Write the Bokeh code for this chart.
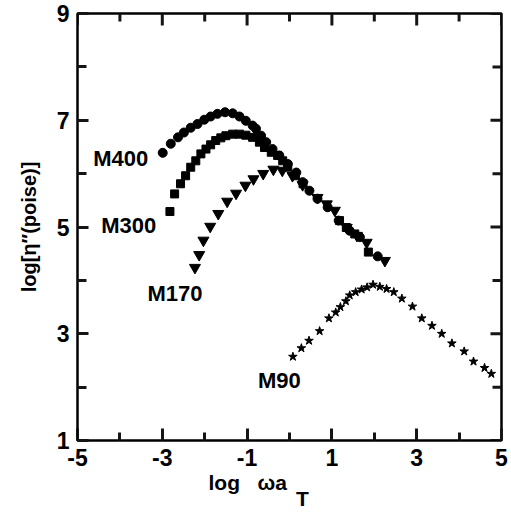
from bokeh.plotting import figure
from bokeh.models import FixedTicker, LinearAxis, Range1d, Title, Label
from bokeh.embed import file_html
from bokeh.resources import INLINE

# ---- data ----
m400_x = [-2.99, -2.80, -2.63, -2.49, -2.33, -2.17, -2.01, -1.86, -1.70, -1.52, -1.34, -1.18,
          -1.03, -0.87, -0.79, -0.67, -0.55, -0.40, -0.24, -0.04, 0.16, 0.31, 0.47, 0.66,
          0.90, 1.16, 1.42, 1.66, 2.08]
m400_y = [6.39, 6.56, 6.68, 6.77, 6.86, 6.93, 7.01, 7.07, 7.12, 7.15, 7.13, 7.07,
          6.99, 6.90, 6.84, 6.71, 6.59, 6.46, 6.34, 6.18, 6.02, 5.84, 5.68, 5.53,
          5.37, 5.12, 4.93, 4.81, 4.45]

m300_x = [-2.82, -2.71, -2.57, -2.45, -2.33, -2.21, -2.09, -1.97, -1.86, -1.74, -1.62, -1.50,
          -1.34, -1.18, -1.03, -0.87, -0.71, -0.59, -0.43, -0.28, -0.16, -0.04, 0.14, 0.32,
          1.18, 1.34, 1.54, 1.86]
m300_y = [5.29, 5.62, 5.81, 5.96, 6.12, 6.24, 6.37, 6.46, 6.54, 6.62, 6.67, 6.71,
          6.74, 6.74, 6.72, 6.68, 6.59, 6.49, 6.40, 6.34, 6.24, 6.12, 5.96, 5.81,
          5.12, 4.99, 4.87, 4.53]

m170_x = [-2.23, -2.13, -2.03, -1.87, -1.68, -1.47, -1.26, -1.04, -0.85, -0.62, -0.38,
          -0.17, 0.07, 0.31, 0.66, 0.88, 1.07, 1.35, 1.59, 1.82, 2.25]
m170_y = [4.24, 4.48, 4.75, 5.01, 5.25, 5.48, 5.63, 5.78, 5.90, 6.00, 6.08,
          6.06, 5.96, 5.79, 5.55, 5.43, 5.31, 4.99, 4.84, 4.71, 4.37]

m90_x = [0.08, 0.28, 0.46, 0.71, 0.93, 1.09, 1.20, 1.33, 1.42, 1.56, 1.70, 1.83, 1.97,
         2.13, 2.29, 2.46, 2.65, 2.90, 3.12, 3.36, 3.59, 3.83, 4.12, 4.34, 4.60, 4.76]
m90_y = [2.57, 2.73, 2.87, 3.05, 3.29, 3.40, 3.50, 3.61, 3.72, 3.78, 3.83, 3.87, 3.92,
         3.88, 3.84, 3.78, 3.66, 3.51, 3.29, 3.15, 3.00, 2.82, 2.67, 2.48, 2.36, 2.25]

series_names = ["M400", "M300", "M170", "M90"]
series_label_x = [-3.98, -3.79, -2.70, -0.24]
series_label_y = [6.28, 5.03, 3.75, 2.12]

x_major = [-5, -3, -1, 1, 3, 5]
x_major_labels = ["-5", "-3", "-1", "1", "3", "5"]
x_minor = [-4, -2, 0, 2, 4]
y_major = [1, 3, 5, 7, 9]
y_major_labels = ["1", "3", "5", "7", "9"]
y_minor = [2, 4, 6, 8]

FONT = "Liberation Sans"
INK = "#151515"
X0, X1, Y0, Y1 = -5.0, 5.0, 1.0, 9.0
W, H = 511, 516
BL, BR, BT, BB = 77, 10, 13, 76
px_x = (X1 - X0) / (W - BL - BR)   # data units per pixel, x
px_y = (Y1 - Y0) / (H - BT - BB)   # data units per pixel, y

p = figure(width=W, height=H, output_backend="svg", toolbar_location=None,
           x_range=Range1d(X0, X1), y_range=Range1d(Y0, Y1),
           min_border_left=BL, min_border_right=BR, min_border_top=BT, min_border_bottom=BB,
           x_axis_location=None, y_axis_location=None)
p.grid.visible = False
p.outline_line_color = "black"
p.outline_line_width = 2.5


def make_axis(ticks, minor, labels, tick_major, tick_minor):
    ax = LinearAxis(ticker=FixedTicker(ticks=ticks, minor_ticks=minor))
    ax.axis_line_color = "black"
    ax.major_tick_in = tick_major
    ax.major_tick_out = 0
    ax.minor_tick_in = tick_minor
    ax.minor_tick_out = 0
    ax.major_tick_line_width = 3
    ax.minor_tick_line_width = 3
    ax.major_tick_line_color = INK
    ax.minor_tick_line_color = INK
    ax.major_label_overrides = {t: s for t, s in zip(ticks, labels)}
    ax.major_label_text_font = FONT
    ax.major_label_text_font_style = "bold"
    ax.major_label_text_font_size = "23px"
    ax.major_label_text_color = "black"
    ax.major_label_standoff = 8
    return ax


xax = make_axis(x_major, x_minor, x_major_labels, 12, 8)
yax = make_axis(y_major, y_minor, y_major_labels, 11, 9)
yax.axis_label = "log[η″(poise)]"
yax.axis_label_text_font = FONT
yax.axis_label_text_font_style = "bold"
yax.axis_label_text_font_size = "20px"
yax.axis_label_text_color = "black"
yax.axis_label_standoff = 14
p.add_layout(xax, "below")
p.add_layout(yax, "left")

# x title: "log  ωa" with the subscript T on a tight second line
NB = "\u00a0"
p.add_layout(Title(text="log" + NB * 3 + "ωa\n" + NB * 15 + "T", align="left", offset=131,
                   standoff=0, text_line_height=0.72,
                   text_font=FONT, text_font_style="bold", text_font_size="21px",
                   text_color="black"), "below")

# inward ticks on the top and right edges drawn as short segments
tick_kw = dict(line_color=INK, line_width=3)
maj_v, min_v = 12 * px_y, 8 * px_y
maj_h, min_h = 11 * px_x, 9 * px_x
p.segment(x_major, [Y1] * len(x_major), x_major, [Y1 - maj_v] * len(x_major), **tick_kw)
p.segment(x_minor, [Y1] * len(x_minor), x_minor, [Y1 - min_v] * len(x_minor), **tick_kw)
p.segment([X1] * len(y_major), y_major, [X1 - maj_h] * len(y_major), y_major, **tick_kw)
p.segment([X1] * len(y_minor), y_minor, [X1 - min_h] * len(y_minor), y_minor, **tick_kw)

p.scatter(m400_x, m400_y, marker="circle", size=9, color="black")
p.scatter(m300_x, m300_y, marker="square", size=8, color="black")
p.scatter(m170_x, m170_y, marker="inverted_triangle", size=11, color="black")
p.scatter(m90_x, m90_y, marker="star", size=9, color="black")

for name, lx, ly in zip(series_names, series_label_x, series_label_y):
    p.add_layout(Label(x=lx, y=ly, text=name, text_font=FONT, text_font_style="bold",
                       text_font_size="22px", text_align="center", text_baseline="middle",
                       text_color="black"))

open("out.html", "w").write(file_html(p, INLINE))
